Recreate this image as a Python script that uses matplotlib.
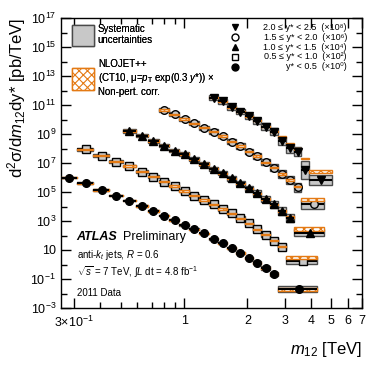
import numpy as np
import matplotlib
matplotlib.use("Agg")
import matplotlib.pyplot as plt
from matplotlib.patches import Patch

plt.rcParams['font.family'] = ['Liberation Sans', 'DejaVu Sans']
plt.rcParams['mathtext.fontset'] = 'custom'
plt.rcParams['mathtext.rm'] = 'Liberation Sans'
plt.rcParams['mathtext.it'] = 'Liberation Sans:italic'
plt.rcParams['mathtext.bf'] = 'Liberation Sans:bold'
plt.rcParams['hatch.linewidth'] = 0.8

# bin edges in TeV for each y* slice (last bin of each slice is a merged one)
edges_y0 = [0.26, 0.31, 0.37, 0.44, 0.51, 0.59, 0.67, 0.76, 0.85, 0.95, 1.06, 1.18,
            1.31, 1.45, 1.60, 1.76, 1.94, 2.12, 2.33, 2.55, 2.78, 4.27]
edges_y1 = [0.31, 0.37, 0.44, 0.51, 0.59, 0.67, 0.76, 0.85, 0.95, 1.06, 1.18,
            1.31, 1.45, 1.60, 1.76, 1.94, 2.12, 2.33, 2.55, 2.78, 3.04, 4.27]
edges_y2 = [0.51, 0.59, 0.67, 0.76, 0.85, 0.95, 1.06, 1.18, 1.31, 1.45, 1.60,
            1.76, 1.94, 2.12, 2.33, 2.55, 2.78, 3.04, 3.31, 4.64]
edges_y3 = [0.76, 0.85, 0.95, 1.06, 1.18, 1.31, 1.45, 1.60, 1.76, 1.94, 2.12,
            2.33, 2.55, 2.78, 3.04, 3.31, 3.61, 4.64]
edges_y4 = [1.31, 1.45, 1.60, 1.76, 1.94, 2.12, 2.33, 2.55, 2.78, 3.04, 3.31,
            3.61, 3.93, 5.04]

# measured cross sections [pb/TeV], before the display scale factor
xsec_y0 = [9.8e5, 4.0e5, 1.4e5, 5.6e4, 2.5e4, 1.07e4, 4.9e3, 2.3e3, 1.17e3, 5.6e2,
           2.7e2, 1.4e2, 60, 30, 13.8, 6.2, 2.8, 1.3, 0.58, 0.22, 0.020]
xsec_y1 = [8.7e5, 3.2e5, 1.23e5, 6.2e4, 2.5e4, 1.15e4, 5.1e3, 2.6e3, 1.2e3, 5.5e2,
           2.8e2, 1.4e2, 65, 34, 15.5, 6.9, 2.7, 1.15, 0.44, 0.17, 0.018]
xsec_y2 = [1.6e5, 7.6e4, 3.3e4, 1.55e4, 7.1e3, 4.2e3, 1.8e3, 850, 410, 195,
           87, 40, 18, 8.1, 3.2, 1.4, 0.49, 0.155, 0.0155]
xsec_y3 = [4.6e4, 2.3e4, 1.07e4, 5.5e3, 2.7e3, 1.45e3, 720, 295, 148, 60,
           30, 11.2, 4.8, 1.74, 0.68, 0.21, 0.0148]
xsec_y4 = [3.2e3, 1.8e3, 690, 350, 166, 83, 32, 14.5, 3.3, 1.02, 0.60, 0.033, 0.0068]

# NLOJET++ x non-pert. corr. divided by data
theory_y0 = [1.0] * 20 + [1.0]
theory_y1 = [1.0] * 20 + [1.6]
theory_y2 = [1.0] * 17 + [1.2, 1.8]
theory_y3 = [1.0] * 15 + [1.1, 2.0]
theory_y4 = [1.0] * 8 + [1.9, 2.2, 1.5, 6.0, 3.7]

# systematic uncertainty, half size in decades
syst_y0 = [0.06, 0.06, 0.05, 0.05, 0.05, 0.05, 0.05, 0.05, 0.05, 0.06, 0.06,
           0.06, 0.07, 0.07, 0.08, 0.08, 0.09, 0.10, 0.11, 0.13, 0.21]
syst_y1 = [0.10, 0.09, 0.09, 0.09, 0.09, 0.09, 0.09, 0.10, 0.10, 0.10, 0.11,
           0.11, 0.12, 0.12, 0.13, 0.14, 0.15, 0.16, 0.18, 0.20, 0.25]
syst_y2 = [0.12, 0.12, 0.12, 0.12, 0.12, 0.13, 0.13, 0.14, 0.14, 0.15, 0.16,
           0.17, 0.18, 0.20, 0.22, 0.24, 0.28, 0.28, 0.25]
syst_y3 = [0.14, 0.14, 0.14, 0.15, 0.15, 0.16, 0.16, 0.17, 0.18, 0.19, 0.20,
           0.22, 0.24, 0.26, 0.28, 0.29, 0.31]
syst_y4 = [0.16, 0.16, 0.17, 0.18, 0.19, 0.20, 0.22, 0.24, 0.29, 0.30, 0.30, 0.60, 0.32]

scales = [1e0, 1e2, 1e4, 1e6, 1e8]
labels = ["y* < 0.5", "0.5 \u2264 y* < 1.0", "1.0 \u2264 y* < 1.5",
          "1.5 \u2264 y* < 2.0", "2.0 \u2264 y* < 2.5"]
exps = ["\u2070", "\u00b2", "\u2074", "\u2076", "\u2078"]
markers = ["o", "s", "^", "o", "v"]
filled = [True, False, True, False, True]

series = [
    (edges_y0, xsec_y0, theory_y0, syst_y0),
    (edges_y1, xsec_y1, theory_y1, syst_y1),
    (edges_y2, xsec_y2, theory_y2, syst_y2),
    (edges_y3, xsec_y3, theory_y3, syst_y3),
    (edges_y4, xsec_y4, theory_y4, syst_y4),
]

box_face = "#c8c8c8"
box_edge = "#4a4a4a"
orange = "#e47a14"

fig = plt.figure(figsize=(3.82, 3.67), dpi=100)
ax = fig.add_axes([61 / 382, 59 / 367, 301 / 382, 290 / 367])

for i, (edges, xsec, ratio, syst) in enumerate(series):
    e = np.array(edges)
    lo, hi = e[:-1], e[1:]
    xc = (lo + hi) / 2
    v = np.array(xsec) * scales[i]
    s = np.array(syst)
    up, dn = v * 10**s, v / 10**s
    ax.bar(lo, up - dn, width=hi - lo, bottom=dn, align="edge", color=box_face,
           edgecolor=box_edge, linewidth=1.0, zorder=2)
    th = v * np.array(ratio)
    tw = np.full(len(v), 0.05)
    tw[-1] = 0.11
    ax.bar(lo, th * (10**tw - 10**-tw), width=hi - lo, bottom=th / 10**tw,
           align="edge", facecolor="white", edgecolor=orange, hatch="xxxx",
           linewidth=1.0, zorder=5 if not filled[i] else 3)
    ax.errorbar(xc, v, xerr=[xc - lo, hi - xc], fmt=markers[i], color="black",
                mfc="black" if filled[i] else box_face, mec="black", ms=5.5,
                mew=1.0, elinewidth=1.5, capsize=0, zorder=4)

ax.set_xscale("log")
ax.set_yscale("log")
ax.set_xlim(0.26, 7)
ax.set_ylim(1e-3, 1e17)

ax.set_xticks([0.3, 1, 2, 3, 4, 5, 6, 7])
ax.set_xticklabels([r"3$\times$10$^{-1}$", "1", "2", "3", "4", "5", "6", "7"])
ax.set_xticks([0.4, 0.5, 0.6, 0.7, 0.8, 0.9], minor=True)
ax.xaxis.set_minor_formatter(plt.NullFormatter())

yt = np.arange(-3, 18, 2)
ax.set_yticks([10.0**k for k in yt])
ax.set_yticklabels(["10" if k == 1 else r"10$^{%d}$" % k for k in yt])
ax.set_yticks([10.0**k for k in range(-2, 17, 2)], minor=True)
ax.yaxis.set_minor_formatter(plt.NullFormatter())

ax.tick_params(which="both", direction="in", top=True, right=True, labelsize=9)
ax.tick_params(which="major", length=7, width=1)
ax.tick_params(which="minor", length=4, width=1)
ax.tick_params(axis="x", pad=5)
for sp in ax.spines.values():
    sp.set_linewidth(1.0)

ax.set_xlabel(r"$m_{12}$ [TeV]", fontsize=12, loc="right")
ax.xaxis.set_label_coords(1.0, -0.11)
ax.set_ylabel(r"d$^{2}$σ/d$m_{12}$dy* [pb/TeV]", fontsize=12, loc="top")
ax.yaxis.set_label_coords(-0.11, 1.0)

# left legend: uncertainty bands
h_syst = Patch(facecolor=box_face, edgecolor=box_edge, linewidth=1.0)
h_theo = Patch(facecolor="white", edgecolor=orange, hatch="xxxx", linewidth=1.0)
leg = ax.legend([h_syst, h_theo],
                ["Systematic\nuncertainties",
                 "NLOJET++\n(CT10, \u03bc=$p_{\\rm T}$ exp(0.3 $y$*)) \u00d7\nNon-pert. corr."],
                loc="upper left", bbox_to_anchor=(0.035, 0.98), fontsize=7,
                frameon=False, handlelength=2.3, handleheight=3.0,
                handletextpad=0.4, labelspacing=1.3, borderpad=0, borderaxespad=0)
ax.add_artist(leg)

# right legend: rapidity slices
for i in range(5):
    k = 4 - i
    y = 0.968 - i * 0.034
    ax.plot([0.578], [y], marker=markers[k], color="black",
            mfc="black" if filled[k] else "white", ms=5, mew=1.0,
            transform=ax.transAxes, linestyle="none", clip_on=False)
    ax.text(0.950, y, labels[k] + "  (\u00d710" + exps[k] + ")", fontsize=6.5,
            ha="right", va="center", transform=ax.transAxes)

# ATLAS labels
ax.text(0.052, 0.245, "ATLAS", fontsize=9, fontweight="bold", fontstyle="italic",
        transform=ax.transAxes, va="center")
ax.text(0.205, 0.245, "Preliminary", fontsize=9, transform=ax.transAxes, va="center")
ax.text(0.052, 0.183, "anti-$k_{t}$ jets, $R$ = 0.6", fontsize=7,
        transform=ax.transAxes, va="center")
ax.text(0.052, 0.125, r"$\sqrt{s}$ = 7 TeV, $\int L$ dt = 4.8 fb$^{-1}$", fontsize=7,
        transform=ax.transAxes, va="center")
ax.text(0.052, 0.052, "2011 Data", fontsize=7, transform=ax.transAxes, va="center")

fig.savefig("out.png", dpi=100)
